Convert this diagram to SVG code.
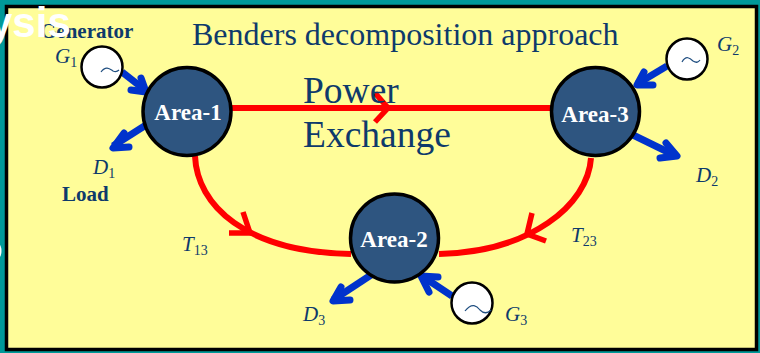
<svg xmlns="http://www.w3.org/2000/svg" width="760" height="353" viewBox="0 0 760 353">
<style>
.s{font-family:"Liberation Serif","Times New Roman",serif}
.navy{fill:#0e3a6b}
.i{font-style:italic;font-size:21px}
.sub{font-size:14px;font-style:normal}
.b{font-weight:bold;font-size:21px}
.area{fill:#2e5580;stroke:#000;stroke-width:3.5}
.at{fill:#fff;font-weight:bold;font-size:23px;text-anchor:middle}
.gen{fill:#fff;stroke:#000;stroke-width:2.5}
.wave{fill:none;stroke:#1f4e80;stroke-width:1.2}
.red{fill:none;stroke:#f00;stroke-width:6}
.barb{fill:none;stroke:#f00;stroke-width:5.500}
.blue{fill:none;stroke:#0033cc;stroke-width:7;stroke-linejoin:round;stroke-linecap:round}
.bl{stroke-linecap:butt}
</style>
<rect width="760" height="353" fill="#009999"/>
<rect x="6.500" y="6.500" width="750" height="343" fill="#fffd99" stroke="#000" stroke-width="3.500"/>
<g id="connectors">
<path class="red" d="M232 108H552"/>
<path class="barb" d="M375 93L388 108L375 122"/>
<path class="red" d="M195 156C197 205 245 252 351 254"/>
<path class="barb" d="M243 212L250 233L229 233"/>
<path class="red" d="M591 158C588 205 530 252 439 254"/>
<path class="barb" d="M532 213L527 234L546 241"/>
<path class="blue bl" d="M122 72L145 90"/>
<path class="blue" d="M141 78L146 92L131 90"/>
<path class="blue bl" d="M146 125L113 146"/>
<path class="blue" d="M124 133L113 148L129 147"/>
<path class="blue bl" d="M667 66L637 84"/>
<path class="blue" d="M644 72L637 85L653 85"/>
<path class="blue bl" d="M633 135L676 156"/>
<path class="blue" d="M666 143L677 156L660 158"/>
<path class="blue bl" d="M371 275L333 300"/>
<path class="blue" d="M341 287L333 301L350 300"/>
<path class="blue bl" d="M452 296L422 276"/>
<path class="blue" d="M429 292L421 276L438 277"/>
</g>
<text class="s navy" x="192" y="45" font-size="32">Benders decomposition approach</text>
<text class="s navy" x="303" y="103" font-size="37.500">Power</text>
<text class="s navy" x="303" y="147" font-size="37.500">Exchange</text>
<g id="area-1"><circle class="area" cx="187" cy="111.500" r="44"/><text class="s at" x="188" y="120">Area-1</text></g>
<g id="area-3"><circle class="area" cx="595.500" cy="111.500" r="44"/><text class="s at" x="595" y="122">Area-3</text></g>
<g id="area-2"><circle class="area" cx="394.500" cy="238" r="44"/><text class="s at" x="394" y="247">Area-2</text></g>
<g id="g1"><circle class="gen" cx="102" cy="67" r="20.500"/><path class="wave" d="M101 72C106 65 110 69 113 71C115 72 117 72 119 70"/><text class="s navy i" x="55" y="63">G<tspan class="sub" dy="4">1</tspan></text></g>
<g id="g2"><circle class="gen" cx="687" cy="59" r="20.500"/><path class="wave" d="M682 62C686 55 690 58 693 61C696 63 698 63 700 60"/><text class="s navy i" x="717" y="51">G<tspan class="sub" dy="4">2</tspan></text></g>
<g id="g3"><circle class="gen" cx="472" cy="303" r="20.500"/><path class="wave" d="M465 311C472 302 477 306 480 310C484 314 488 313 491 310"/><text class="s navy i" x="505" y="321">G<tspan class="sub" dy="4">3</tspan></text></g>
<g id="labels">
<text class="s navy b" x="40" y="38">Generator</text>
<text class="s navy b" x="62" y="201">Load</text>
<text class="s navy i" x="93" y="174">D<tspan class="sub" dy="4">1</tspan></text>
<text class="s navy i" x="696" y="182">D<tspan class="sub" dy="4">2</tspan></text>
<text class="s navy i" x="303" y="321">D<tspan class="sub" dy="4">3</tspan></text>
<text class="s navy i" x="182" y="251">T<tspan class="sub" dy="4">13</tspan></text>
<text class="s navy i" x="571" y="242">T<tspan class="sub" dy="4">23</tspan></text>
</g>
<text x="-11" y="37" fill="#fff" style="font-family:'Liberation Sans',sans-serif;font-weight:bold;font-size:42px">ysis</text>
<ellipse cx="-1" cy="251" rx="2.500" ry="6.500" fill="#fff"/>
</svg>
